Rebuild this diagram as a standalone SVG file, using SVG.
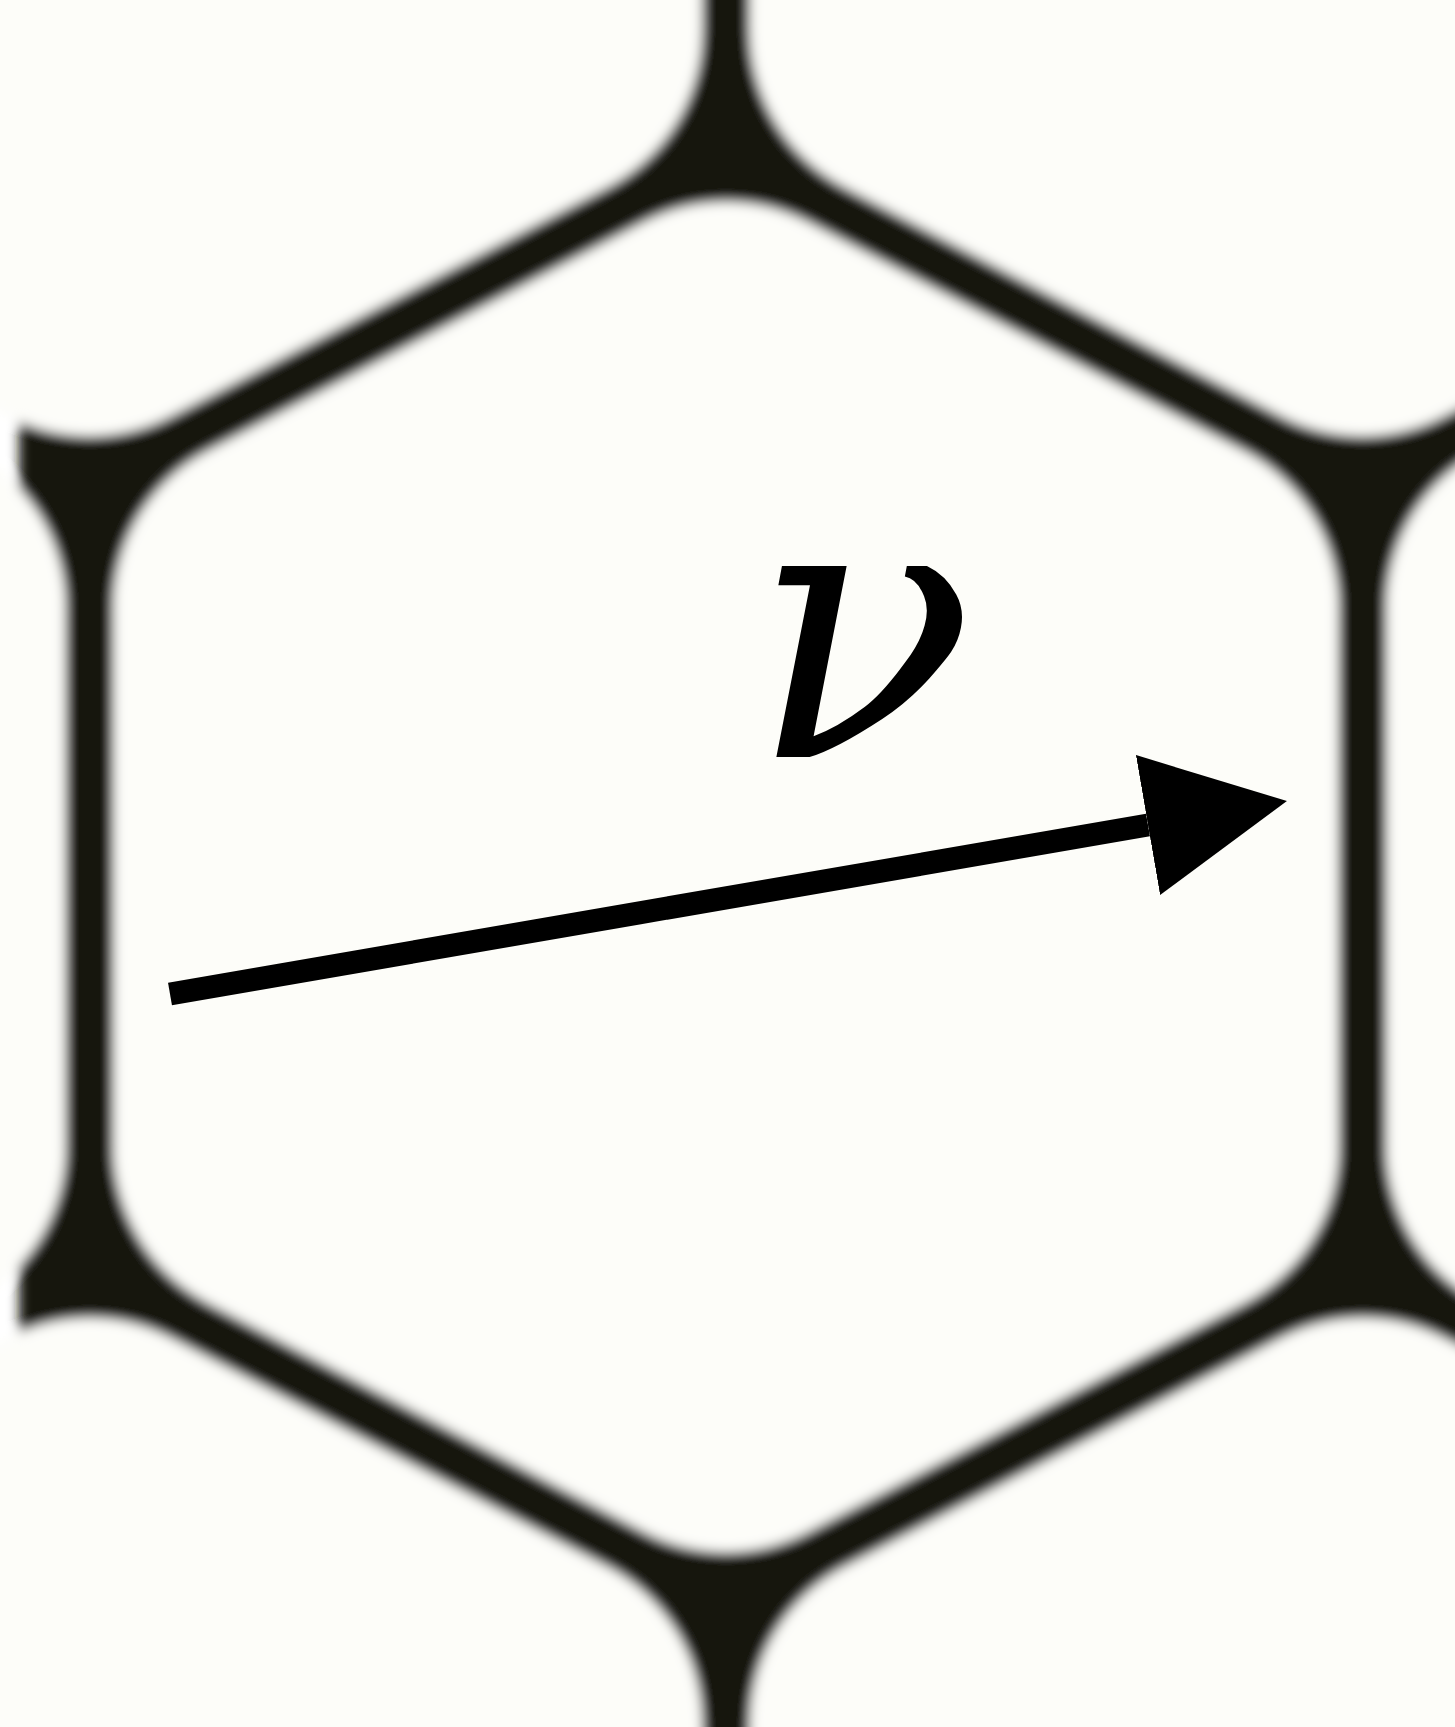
<svg xmlns="http://www.w3.org/2000/svg" width="1455" height="1727" viewBox="0 0 1455 1727">
<defs>
<style>
.wall{fill:#18140c}
.cell{fill:#fdfdf9;stroke:#fdfdf9;stroke-width:352;stroke-linejoin:round}
.lbl{font-family:"DejaVu Serif","Liberation Serif",serif;font-style:italic;font-size:368px;fill:#000}
.shaft{stroke:#000;stroke-width:23;fill:none}
</style>
<polygon id="hex" points="0,-499.1 436.5,-270.1 436.5,270.1 0,499.1 -436.5,270.1 -436.5,-270.1"/>
<filter id="soft" filterUnits="userSpaceOnUse" x="-100" y="-100" width="1700" height="1950"><feGaussianBlur stdDeviation="6"/></filter>
<marker id="ah" markerUnits="userSpaceOnUse" viewBox="0 0 141 142" markerWidth="141" markerHeight="142" refX="0" refY="71" orient="auto"><path d="M0,0 L141,71 L0,142 Z" fill="#000"/></marker>
</defs>
<rect width="1455" height="1727" fill="#ffffff"/>
<g id="foam" filter="url(#soft)">
<rect class="wall" x="19" y="-60" width="1500" height="1850"/>
<g id="cell-center"><use href="#hex" class="cell" x="726" y="877"/></g>
<g id="cell-top-left"><use href="#hex" class="cell" x="89.5" y="-239"/></g>
<g id="cell-top-right"><use href="#hex" class="cell" x="1362.5" y="-239"/></g>
<g id="cell-left"><use href="#hex" class="cell" x="-547" y="877"/></g>
<g id="cell-right"><use href="#hex" class="cell" x="1999" y="877"/></g>
<g id="cell-bottom-left"><use href="#hex" class="cell" x="89.5" y="1993"/></g>
<g id="cell-bottom-right"><use href="#hex" class="cell" x="1362.5" y="1993"/></g>
</g>
<g id="connectors">
<line class="shaft" x1="170" y1="994" x2="1148" y2="825" marker-end="url(#ah)"/>
</g>
<g id="label-nu"><text class="lbl" x="862" y="757" text-anchor="middle">ν</text></g>
</svg>
